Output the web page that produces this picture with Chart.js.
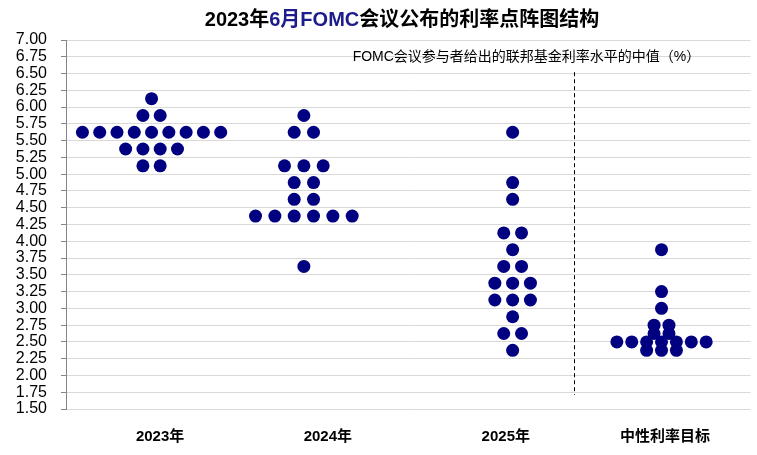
<!DOCTYPE html>
<html>
<head>
<meta charset="utf-8">
<style>
    body { margin: 0; background: #fff; }
    #wrap { width: 757px; height: 455px; position: relative; }
</style>
<script src="https://cdn.jsdelivr.net/npm/chart.js@4.4.0/dist/chart.umd.min.js"></script>
</head>
<body>
<div id="wrap"><canvas id="dot-chart" width="757" height="455"></canvas></div>
<script>
// categories along the x axis
const categories = ['2023年', '2024年', '2025年', '中性利率目标'];

// rate levels (%) and number of participants at each level
const levels2023 = [6.125, 5.875, 5.625, 5.375, 5.125];
const dots2023 = [1, 2, 9, 4, 2];
const levels2024 = [5.875, 5.625, 5.125, 4.875, 4.625, 4.375, 3.625];
const dots2024 = [1, 2, 3, 2, 2, 6, 1];
const levels2025 = [5.625, 4.875, 4.625, 4.125, 3.875, 3.625, 3.375, 3.125, 2.875, 2.625, 2.375];
const dots2025 = [1, 1, 1, 2, 1, 2, 3, 3, 1, 2, 1];
const levelsLong = [3.875, 3.25, 3.0, 2.75, 2.625, 2.5, 2.375];
const dotsLong = [1, 1, 1, 2, 2, 7, 3];

// y axis ticks
const yMin = 1.5, yMax = 7.0, yStep = 0.25;

// layout: where each group of dots sits and how far apart the dots are (x units)
const groupCenters = [0.0, 0.89, 2.11, 2.98];
const groupSteps = [0.101, 0.113, 0.104, 0.087];
const labelPos = [0.05, 1.03, 2.07, 3.0];

const FONT = "'Liberation Sans', Arial, 'Noto Sans CJK SC', sans-serif";
const DOT_COLOR = '#000080';

function buildDots(levels, counts, center, step) {
    const pts = [];
    levels.forEach((lv, i) => {
        const n = counts[i];
        for (let k = 0; k < n; k++) {
            pts.push({ x: center + (k - (n - 1) / 2) * step, y: lv });
        }
    });
    return pts;
}

const allDots = [
    buildDots(levels2023, dots2023, groupCenters[0], groupSteps[0]),
    buildDots(levels2024, dots2024, groupCenters[1], groupSteps[1]),
    buildDots(levels2025, dots2025, groupCenters[2], groupSteps[2]),
    buildDots(levelsLong, dotsLong, groupCenters[3], groupSteps[3])
].flat();

const extras = {
    id: 'extras',
    afterDatasetsDraw(chart) {
        const ctx = chart.ctx;
        const x = chart.scales.x;
        const y = chart.scales.y;

        // dashed divider between forecasts and the neutral rate
        const lx = Math.round(x.getPixelForValue(2.47)) + 0.5;
        ctx.save();
        ctx.strokeStyle = '#000';
        ctx.lineWidth = 1;
        ctx.setLineDash([4, 3]);
        ctx.beginPath();
        ctx.moveTo(lx, y.getPixelForValue(6.52));
        ctx.lineTo(lx, y.getPixelForValue(1.71));
        ctx.stroke();
        ctx.setLineDash([]);

        // note text
        ctx.fillStyle = '#000';
        ctx.font = '14px ' + FONT;
        ctx.textAlign = 'left';
        ctx.textBaseline = 'middle';
        ctx.fillText('FOMC会议参与者给出的联邦基金利率水平的中值（%）', x.getPixelForValue(1.175), y.getPixelForValue(6.74));

        // title, with the middle part in navy
        const parts = [
            { t: '2023年', c: '#000' },
            { t: '6月FOMC', c: '#1c1c8c' },
            { t: '会议公布的利率点阵图结构', c: '#000' }
        ];
        ctx.font = 'bold 20px ' + FONT;
        const total = parts.reduce((s, p) => s + ctx.measureText(p.t).width, 0);
        let tx = 402 - total / 2;
        parts.forEach(p => {
            ctx.fillStyle = p.c;
            ctx.fillText(p.t, tx, 20);
            tx += ctx.measureText(p.t).width;
        });
        ctx.restore();
    }
};

new Chart(document.getElementById('dot-chart').getContext('2d'), {
    type: 'scatter',
    data: {
        datasets: [{
            label: '点阵',
            data: allDots,
            backgroundColor: DOT_COLOR,
            borderWidth: 0,
            pointRadius: 6.5,
            pointHoverRadius: 6.5
        }]
    },
    options: {
        responsive: false,
        animation: false,
        layout: { padding: { top: 40, left: 0, right: 1, bottom: 0 } },
        plugins: {
            legend: { display: false },
            tooltip: { enabled: false },
            title: { display: false }
        },
        scales: {
            x: {
                type: 'linear',
                min: -0.5,
                max: 3.5,
                afterBuildTicks: scale => {
                    scale.ticks = labelPos.map(v => ({ value: v }));
                },
                afterFit: scale => { scale.height = 46; },
                grid: { display: false, drawTicks: false },
                border: { display: false },
                ticks: {
                    autoSkip: false,
                    maxRotation: 0,
                    padding: 19,
                    color: '#000',
                    font: { family: FONT, size: 15, weight: 'bold' },
                    callback: (value, index) => categories[index]
                }
            },
            y: {
                min: yMin,
                max: yMax,
                afterFit: scale => { scale.width = 66; },
                grid: {
                    color: '#d9d9d9',
                    tickColor: '#868686',
                    tickLength: 5,
                    lineWidth: 1
                },
                border: { color: '#868686', width: 1 },
                ticks: {
                    stepSize: yStep,
                    autoSkip: false,
                    padding: 14,
                    color: '#000',
                    font: { family: FONT, size: 16 },
                    callback: v => v.toFixed(2)
                }
            }
        }
    },
    plugins: [extras]
});
</script>
</body>
</html>
